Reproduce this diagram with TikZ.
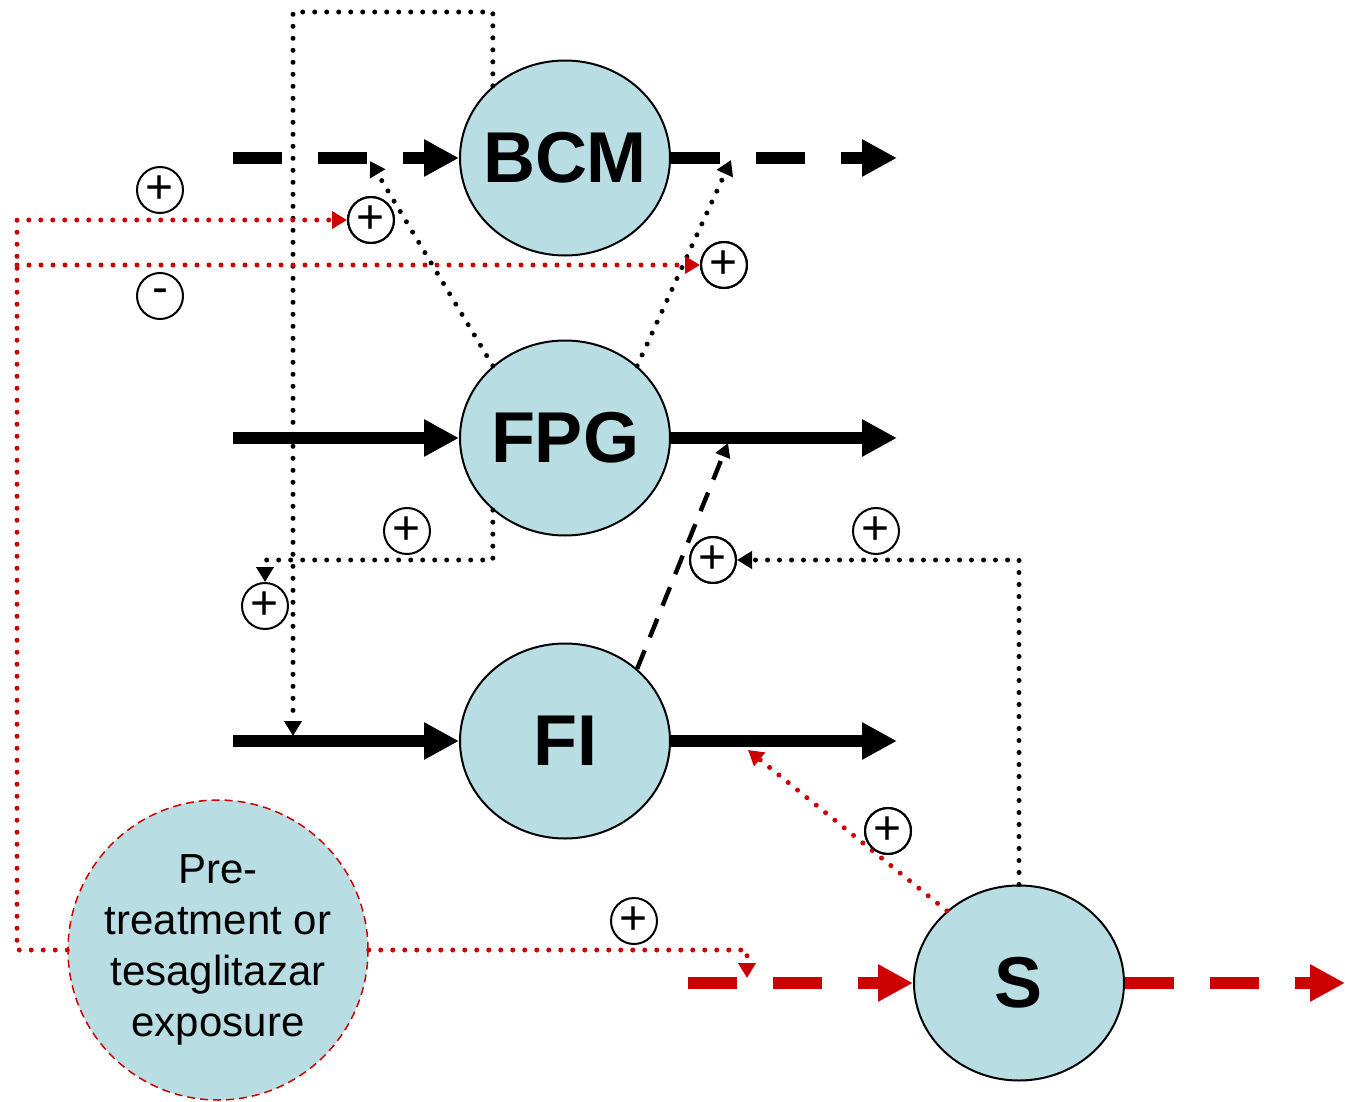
\documentclass[tikz,border=0pt]{standalone}
\usepackage{fontspec}
\setmainfont{Liberation Sans}
\usetikzlibrary{arrows.meta,shapes.geometric}

\definecolor{stateblue}{RGB}{184,222,227}
\definecolor{effred}{RGB}{204,0,0}

\tikzset{every picture/.style={line width=0.75pt}}
\tikzset{
  state/.style={ellipse, draw, line width=1pt, fill=stateblue, inner sep=0pt,
    minimum width=105pt, minimum height=97.5pt,
    label={[font=\bfseries\fontsize{36}{40}\selectfont]center:#1}},
  sign/.style={circle, draw, line width=1pt, fill=white, inner sep=0pt,
    minimum size=23pt, font=\fontsize{24}{24}\selectfont},
  flow/.style={line width=6pt, -{Triangle[length=17.5pt,width=17.5pt]}},
  flowdash/.style={flow, dash pattern=on 24.5pt off 18pt},
  dotline/.style={line width=2.5pt, line cap=round, dash pattern=on 0pt off 6pt,
    -{Triangle[length=7.5pt,width=8.5pt]}},
  dashlink/.style={line width=2.2pt, dash pattern=on 10pt off 7pt,
    -{Triangle[length=7pt,width=7.5pt]}}
}

\begin{document}
\begin{tikzpicture}[x=0.5pt,y=0.5pt,yscale=-1,xscale=1]
\useasboundingbox (0,0) rectangle (1345,1102);

%Shape: Ellipse [states]
\node [state=BCM] (BCM) at (565,158) {};
\node [state=FPG] (FPG) at (565,438) {};
\node [state=FI] (FI) at (565,741) {};
\node [state=S] (S) at (1019,983) {};
%Shape: Circle [exposure]
\node [circle, draw=effred, line width=0.75pt, dash pattern=on 4pt off 2.5pt,
  fill=stateblue, minimum size=150pt, inner sep=0pt, align=center,
  font=\fontsize{21}{25.5}\selectfont] (pre) at (218,950)
  {Pre-\\treatment or\\tesaglitazar\\exposure};

% end points of the flows
\coordinate (bcm-src) at (233,158);
\coordinate (bcm-sink) at (897,158);
\coordinate (fpg-src) at (233,438);
\coordinate (fpg-sink) at (897,438);
\coordinate (fi-src) at (233,741);
\coordinate (fi-sink) at (897,741);
\coordinate (s-src) at (688,983);
\coordinate (s-sink) at (1345,983);

%Straight Lines [flows]
\draw [flowdash] (bcm-src) -- (BCM.west);
\draw [flowdash] (BCM.east) -- (bcm-sink);
\draw [flow] (fpg-src) -- (FPG.west);
\draw [flow] (FPG.east) -- (fpg-sink);
\draw [flow] (fi-src) -- (FI.west);
\draw [flow] (FI.east) -- (fi-sink);
\draw [flowdash, effred] (s-src) -- (S.west);
\draw [flowdash, effred] (S.east) -- (s-sink);

% Text Node [signs]
\node [sign] (p-a) at (160,190) {+};
\node [sign] (m-a) at (160,296) {-};
\node [sign] (p-bcmin) at (371,220) {+};
\node [sign] (p-bcmout) at (724,265) {+};
\node [sign] (p-fpg) at (407,531) {+};
\node [sign] (p-fi) at (265,606) {+};
\node [sign] (p-s) at (876,531) {+};
\node [sign] (p-fpgout) at (713,560) {+};
\node [sign] (p-fiout) at (888,831) {+};
\node [sign] (p-sin) at (634,921) {+};

% targets on the flows
\coordinate (top-left) at (293,12);
\coordinate (fi-tip) at (293,736);
\coordinate (bcmin-tip) at (370,161);
\coordinate (bcmout-tip) at (731,160);
\coordinate (fpgout-tip) at (728,443);
\coordinate (fiout-tip) at (748,750);
\coordinate (fpg-turn) at (265,560);
\coordinate (sin-tip) at (747,978);
\coordinate (red-corner) at (17,220);
\coordinate (red-branch) at (17,265);

%Straight Lines [black effects]
\draw [dotline] (BCM.135) |- (top-left) -- (fi-tip);
\draw [dotline] (FPG.135) -- (bcmin-tip);
\draw [dotline] (FPG.45) -- (bcmout-tip);
\draw [dotline] (FPG.225) |- (fpg-turn) -- (p-fi.north);
\draw [dotline] (S.90) |- (p-fpgout.east);
\draw [dashlink] (FI.45) -- (fpgout-tip);

%Straight Lines [red effects]
\draw [dotline, effred] (pre.west) -| (red-corner) -- (p-bcmin.west);
\draw [dotline, effred] (red-branch) -- (p-bcmout.west);
\draw [dotline, effred] (pre.east) -| (sin-tip);
\draw [dotline, effred] (S.135) -- (fiout-tip);

% signs on top of the lines
\foreach \n in {p-bcmin,p-bcmout,p-fpgout,p-fiout}
  \draw [line width=1pt] (\n) circle (11.5pt);

\end{tikzpicture}
\end{document}
